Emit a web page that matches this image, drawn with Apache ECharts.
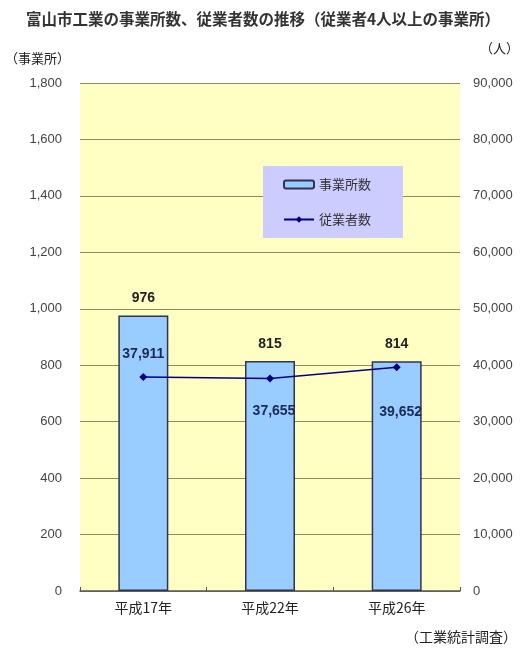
<!DOCTYPE html>
<html><head><meta charset="utf-8">
<script src="https://cdn.jsdelivr.net/npm/echarts@6/dist/echarts.min.js"></script>
<style>html,body{margin:0;padding:0;background:#fff}#c{width:526px;height:652px}</style>
</head><body><div id="c"></div>
<script>
const categories = ['平成17年', '平成22年', '平成26年'];
const establishments = [976, 815, 814];
const employees = [37911, 37655, 39652];
const leftTicks = {min: 0, max: 1800, interval: 200};
const rightTicks = {min: 0, max: 90000, interval: 10000};

const font = '"Noto Sans CJK JP", sans-serif';
const numFont = '"Liberation Sans", Arial, sans-serif';
const chart = echarts.init(document.getElementById('c'));
const fmt = v => v.toLocaleString('en-US');
const empLabelPos = [
  {position: 'top', offset: [0, -4]},
  {position: 'bottom', offset: [4, 14]},
  {position: 'bottom', offset: [4, 26]}
];
chart.setOption({
  animation: false,
  textStyle: {fontFamily: font},
  title: [
    {text: '富山市工業の事業所数、従業者数の推移（従業者4人以上の事業所）', left: 'center', top: 6,
     textStyle: {fontSize: 15.5, fontWeight: 'bold', color: '#333', fontFamily: font}},
    {text: '（事業所）', left: 0, top: 47, textStyle: {fontSize: 13, fontWeight: 'normal', color: '#222', fontFamily: font}},
    {text: '（人）', right: 2, top: 37, textStyle: {fontSize: 13, fontWeight: 'normal', color: '#222', fontFamily: font}},
    {text: '（工業統計調査）', right: 4, top: 625, textStyle: {fontSize: 14, fontWeight: 'normal', color: '#222', fontFamily: font}}
  ],
  grid: {left: 80, right: 66, top: 83, bottom: 61, show: true, backgroundColor: '#FFFFC4', borderWidth: 0},
  legend: {
    orient: 'vertical', left: 263, top: 166,
    padding: [12, 32, 12, 20], itemGap: 22,
    backgroundColor: '#CCCCFF', itemWidth: 30, itemHeight: 8,
    textStyle: {fontSize: 13, color: '#333', fontFamily: font},
    data: ['事業所数', '従業者数']
  },
  xAxis: {
    type: 'category', data: categories,
    axisLine: {lineStyle: {color: '#555', width: 1.5}},
    axisTick: {show: true, inside: true, length: 4, lineStyle: {color: '#555'}},
    axisLabel: {fontSize: 14, color: '#222', margin: 10, fontFamily: font}
  },
  yAxis: [
    {type: 'value', min: leftTicks.min, max: leftTicks.max, interval: leftTicks.interval,
     axisLine: {show: false}, axisTick: {show: false},
     axisLabel: {formatter: v => fmt(v), fontSize: 13, color: '#444', margin: 18, fontFamily: numFont},
     splitLine: {lineStyle: {color: '#8F8B5A', width: 1}}},
    {type: 'value', min: rightTicks.min, max: rightTicks.max, interval: rightTicks.interval,
     axisLine: {show: false}, axisTick: {show: false},
     axisLabel: {formatter: v => fmt(v), fontSize: 13, color: '#444', margin: 13, fontFamily: numFont},
     splitLine: {show: false}}
  ],
  series: [
    {name: '事業所数', type: 'bar', data: establishments, barWidth: 50, yAxisIndex: 0,
     itemStyle: {color: '#99CCFF', borderColor: '#33334D', borderWidth: 1.5},
     label: {show: true, position: 'top', distance: 10, fontSize: 14, fontWeight: 'bold', color: '#222',
             fontFamily: numFont}},
    {name: '従業者数', type: 'line', yAxisIndex: 1,
     data: employees.map((v, i) => ({value: v, label: empLabelPos[i]})),
     symbol: 'diamond', symbolSize: 8,
     lineStyle: {color: '#000080', width: 1.5}, itemStyle: {color: '#000080'},
     label: {show: true, formatter: p => fmt(p.value), fontSize: 14, fontWeight: 'bold', color: '#1a2a55',
             fontFamily: numFont, distance: 8}}
  ]
});
</script></body></html>
